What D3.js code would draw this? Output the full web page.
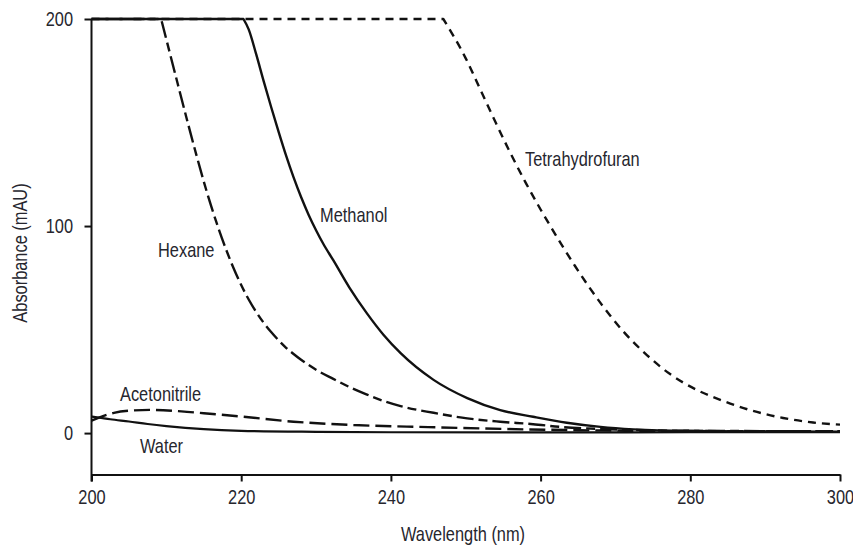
<!DOCTYPE html>
<html>
<head>
<meta charset="utf-8">
<script src="https://cdn.jsdelivr.net/npm/d3@7"></script>
<style>
  html, body { margin: 0; padding: 0; background: #ffffff; }
  svg { display: block; }
  text { font-family: "Liberation Sans", Arial, sans-serif; fill: #26262e; }
</style>
</head>
<body>
<svg id="chart" width="853" height="546"></svg>
<script>
// ---- data ----
const xTicks = [200, 220, 240, 260, 280, 300];
const yTicks = [0, 100, 200];

// each saturating series: flat part up to the corner, then the falling part
const hexaneNm  = [200, 209.3, 211, 213, 214, 215, 216, 217, 218, 219, 220, 221, 222, 223, 224, 225, 226, 227, 228, 229, 230, 232.3, 234.5, 236.8, 239, 241.3, 245.7, 250.2, 254.6, 259, 262.6, 268, 275, 285, 300];
const hexaneAbs = [200, 200, 176, 148, 134.5, 121.5, 109.5, 98.5, 88.5, 79.5, 71.5, 64.5, 58.5, 53.3, 48.8, 44.8, 41.2, 38.2, 35.4, 32.9, 30.6, 26.2, 22.2, 18.6, 15.5, 13.0, 9.8, 7.1, 5.5, 4.3, 3.0, 2.0, 1.3, 1.0, 0.9];

const methanolNm  = [200, 220.3, 221, 222, 223, 224, 225, 226, 227, 228, 229, 230, 231, 232.3, 234.5, 236.8, 239, 241.3, 245.7, 250.2, 254.6, 259, 263.5, 268, 272.4, 280, 290, 300];
const methanolAbs = [200, 200, 195, 183, 170, 157.5, 145.5, 134, 123.5, 114, 105.5, 98, 91.2, 83.5, 70, 57.8, 47.5, 38.6, 25.7, 16.9, 11.1, 7.9, 5.0, 3.0, 1.8, 1.0, 0.8, 0.7];

const thfNm  = [200, 247, 250, 252, 254, 256, 258, 260, 261.3, 264.6, 268.3, 271, 274.2, 277.3, 280.9, 284.4, 288, 292.4, 296.4, 300];
const thfAbs = [200, 200, 181, 165.5, 150, 135, 121, 108, 100, 80.7, 61.4, 49.3, 37.7, 28.5, 20.8, 15.5, 11.1, 7.3, 5.1, 4.1];

const waterNm  = [200, 201, 202.5, 205, 207.5, 210, 215, 220, 230, 240, 260, 280, 300];
const waterAbs = [8, 7.5, 6.7, 5.6, 4.4, 3.4, 1.9, 1.1, 0.6, 0.4, 0.3, 0.4, 0.5];

const acnNm  = [200, 201, 203, 205, 208, 212, 215, 220, 227, 235, 245, 255, 265, 280, 300];
const acnAbs = [6, 7.5, 9.8, 10.8, 11.2, 10.5, 9.6, 8.0, 5.5, 3.9, 2.9, 2.0, 1.4, 1.0, 0.9];

const seriesNames = ["Tetrahydrofuran", "Methanol", "Hexane", "Acetonitrile", "Water"];

// ---- layout ----
const FONT = 20, SX = 0.82;   // condensed look: Liberation Sans squeezed horizontally
const svg = d3.select("#chart");
const x = d3.scaleLinear().domain([200, 300]).range([91.5, 840]);
const y = d3.scaleLinear().domain([-20, 200]).range([474.5, 19]);

const zip = (a, b) => a.map((v, i) => [v, b[i]]);
const series = [
  { name: "Tetrahydrofuran", pts: zip(thfNm, thfAbs),           dash: "8,6",      w: 2.4 },
  { name: "Methanol",        pts: zip(methanolNm, methanolAbs), dash: null,       w: 2.4 },
  { name: "Hexane",          pts: zip(hexaneNm, hexaneAbs),     dash: "17,5,9,5", w: 2.4 },
  { name: "Acetonitrile",    pts: zip(acnNm, acnAbs),           dash: "16,6",     w: 2.4 },
  { name: "Water",           pts: zip(waterNm, waterAbs),       dash: null,       w: 2.2 }
];

const smooth = d3.line().x(d => x(d[0])).y(d => y(d[1])).curve(d3.curveMonotoneX);
const straight = d3.line().x(d => x(d[0])).y(d => y(d[1]));

// keep a sharp corner where a trace leaves the 200 mAU ceiling
function pathFor(pts) {
  let k = -1;
  for (let i = 1; i < pts.length; i++) if (pts[i][1] === 200 && pts[i - 1][1] === 200) k = i;
  if (k < 0) return smooth(pts);
  const flat = straight(pts.slice(0, k + 1));
  const fall = smooth(pts.slice(k)).replace(/^M[^A-Za-z]*/, "");
  return flat + fall;
}

svg.append("g").selectAll("path").data(series).join("path")
  .attr("d", d => pathFor(d.pts))
  .attr("fill", "none")
  .attr("stroke", "#111")
  .attr("stroke-width", d => d.w)
  .attr("stroke-dasharray", d => d.dash)
  .attr("stroke-linejoin", "round");

// ---- axes ----
const gx = svg.append("g").attr("transform", `translate(0,${y(-20)})`)
  .call(d3.axisBottom(x).tickValues(xTicks).tickSize(7).tickSizeOuter(0).tickPadding(8.5).tickFormat(d3.format("d")));
const gy = svg.append("g").attr("transform", `translate(${x(200)},0)`)
  .call(d3.axisLeft(y).tickValues(yTicks).tickSize(7).tickSizeOuter(0).tickPadding(11.5).tickFormat(d3.format("d")));

[gx, gy].forEach(g => {
  g.select(".domain").attr("stroke", "#111").attr("stroke-width", 2);
  g.selectAll(".tick line").attr("stroke", "#111").attr("stroke-width", 2);
  g.selectAll(".tick text").attr("font-size", FONT).attr("fill", "#26262e")
    .style("font-family", '"Liberation Sans", Arial, sans-serif')
    .attr("transform", `scale(${SX},1)`);
});
gy.selectAll(".tick text").attr("x", -18.5 / SX);
gy.select(".domain").attr("d", `M0,${y(200)}V${y(-20) + 7}`);

function label(px, py, str, rot) {
  return svg.append("text")
    .attr("transform", `translate(${px},${py})` + (rot ? ` rotate(${rot})` : "") + ` scale(${SX},1)`)
    .attr("font-size", FONT).text(str);
}

// axis titles
label(463, 541, "Wavelength (nm)").attr("text-anchor", "middle");
label(27, 253, "Absorbance (mAU)", -90).attr("text-anchor", "middle");

// curve labels
const labelPos = {
  "Tetrahydrofuran": [525, 166],
  "Methanol": [320, 222],
  "Hexane": [158, 257],
  "Acetonitrile": [120, 401],
  "Water": [140, 453]
};
seriesNames.forEach(n => label(labelPos[n][0], labelPos[n][1], n));
</script>
</body>
</html>
